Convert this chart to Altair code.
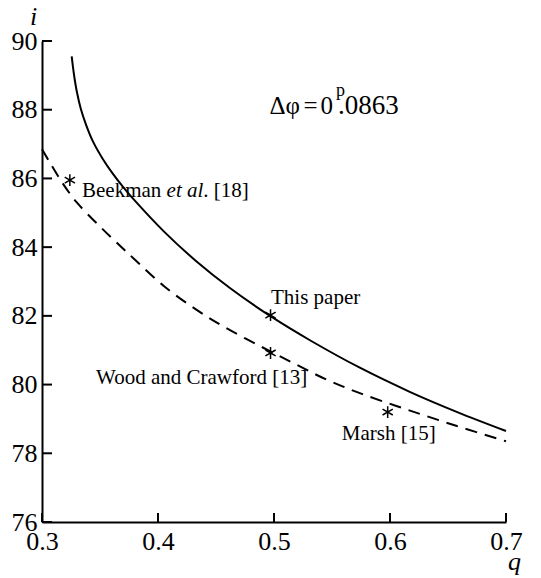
import altair as alt
import pandas as pd

# ---- data ----
solid_q = [0.3256, 0.3275, 0.330, 0.3335, 0.338, 0.344, 0.352, 0.361, 0.370, 0.382,
           0.405, 0.433, 0.462, 0.497, 0.531, 0.574, 0.617, 0.658, 0.700]
solid_i = [89.55, 89.04, 88.53, 88.02, 87.56, 87.07, 86.59, 86.14, 85.75, 85.28,
           84.46, 83.59, 82.81, 81.99, 81.29, 80.49, 79.79, 79.20, 78.65]

dash_q = [0.300, 0.307, 0.318, 0.330, 0.350, 0.367, 0.379, 0.405, 0.433, 0.458,
          0.488, 0.517, 0.545, 0.574, 0.614, 0.657, 0.700]
dash_i = [86.85, 86.45, 85.85, 85.30, 84.60, 84.05, 83.67, 82.87, 82.18, 81.66,
          81.12, 80.62, 80.15, 79.75, 79.28, 78.80, 78.35]

star_q = [0.324, 0.497, 0.497, 0.598]
star_i = [85.95, 82.02, 80.92, 79.20]

label_text = ["This paper", "Wood and Crawford [13]", "Marsh [15]"]
label_q = [0.4974, 0.3466, 0.5584]
label_i = [82.34, 80.01, 78.40]

x_ticks = [0.3, 0.4, 0.5, 0.6, 0.7]
y_ticks = [76, 78, 80, 82, 84, 86, 88, 90]

FONT = "Liberation Serif"

xscale = alt.Scale(domain=[0.3, 0.7], nice=False, zero=False)
yscale = alt.Scale(domain=[76, 90], nice=False, zero=False)

xaxis = alt.Axis(values=x_ticks, format=".1f", grid=False, ticks=False, tickSize=0,
                 labelFont=FONT, labelFontSize=26, labelColor="black", labelPadding=6,
                 labelFlush=False, labelOverlap=False,
                 domainColor="black", domainWidth=2,
                 title="q", titleFont=FONT, titleFontSize=26, titleFontStyle="italic",
                 titleFontWeight="normal", titleColor="black", titleAngle=0,
                 titleX=472, titleY=47, titleAlign="center", titleBaseline="alphabetic")
yaxis = alt.Axis(values=y_ticks, grid=False, ticks=False, tickSize=0,
                 labelFont=FONT, labelFontSize=26, labelColor="black", labelPadding=5,
                 labelOverlap=False, labelFlush=False,
                 domainColor="black", domainWidth=2,
                 title="i", titleFont=FONT, titleFontSize=26, titleFontStyle="italic",
                 titleFontWeight="normal", titleColor="black", titleAngle=0,
                 titleX=-9, titleY=-17, titleAlign="center", titleBaseline="alphabetic")

X = lambda f="q": alt.X(f, type="quantitative", scale=xscale, axis=xaxis)
Y = lambda f="i": alt.Y(f, type="quantitative", scale=yscale, axis=yaxis)

solid = alt.Chart(pd.DataFrame({"q": solid_q, "i": solid_i})).mark_line(
    color="black", strokeWidth=2, interpolate="catmull-rom").encode(x=X(), y=Y())

dashed = alt.Chart(pd.DataFrame({"q": dash_q, "i": dash_i})).mark_line(
    color="black", strokeWidth=2, strokeDash=[12, 8], interpolate="catmull-rom").encode(x=X(), y=Y())

ASTER = "M0,-1L0,1M-0.866,-0.5L0.866,0.5M-0.866,0.5L0.866,-0.5"
stars = alt.Chart(pd.DataFrame({"q": star_q, "i": star_i})).mark_point(
    shape=ASTER, size=140, filled=False, stroke="black", strokeWidth=1.5, opacity=1).encode(x=X(), y=Y())

labels = alt.Chart(pd.DataFrame({"q": label_q, "i": label_i, "t": label_text})).mark_text(
    font=FONT, fontSize=21, color="black", align="left", baseline="alphabetic").encode(
    x=X(), y=Y(), text="t:N")

bk = pd.DataFrame({"q": [0.3345], "i": [85.45]})
bk1 = alt.Chart(bk).mark_text(font=FONT, fontSize=21, color="black", align="left",
                              baseline="alphabetic", text="Beekman").encode(x=X(), y=Y())
bk2 = alt.Chart(bk).mark_text(font=FONT, fontSize=21, color="black", align="left",
                              baseline="alphabetic", fontStyle="italic", text="et al",
                              dx=84.6).encode(x=X(), y=Y())
bk3 = alt.Chart(bk).mark_text(font=FONT, fontSize=21, color="black", align="left",
                              baseline="alphabetic", text=". [18]", dx=121.3).encode(x=X(), y=Y())

dp = pd.DataFrame({"q": [0.5509], "i": [87.87]})
def dtext(txt, align, dx, dy=0, size=25):
    return alt.Chart(dp).mark_text(font=FONT, fontSize=size, color="black", align=align,
                                   baseline="alphabetic", text=txt, dx=dx, dy=dy).encode(x=X(), y=Y())
dp1 = dtext("Δφ", "right", -33)
dp2 = dtext("=", "center", -22.5)
dp3 = dtext("0", "right", 0)
dp4 = dtext(".0863", "left", 5, size=27)
dp5 = dtext("p", "left", 3, dy=-18, size=18)

yt = alt.Chart(pd.DataFrame({"i": y_ticks})).mark_rule(color="black", strokeWidth=2).encode(
    y=Y(), x=alt.value(0), x2=alt.value(10))
xt = alt.Chart(pd.DataFrame({"q": x_ticks})).mark_rule(color="black", strokeWidth=2).encode(
    x=X(), y=alt.value(481), y2=alt.value(472))

chart = alt.layer(solid, dashed, stars, labels, bk1, bk2, bk3,
                  dp1, dp2, dp3, dp4, dp5, yt, xt).properties(
    width=464, height=481,
    padding={"left": 42, "top": 41, "right": 35, "bottom": 56},
    autosize=alt.AutoSizeParams(type="none"),
    background="white",
).configure_view(stroke=None)

chart.save("out.html", embed_options={"renderer": "svg", "actions": False})
